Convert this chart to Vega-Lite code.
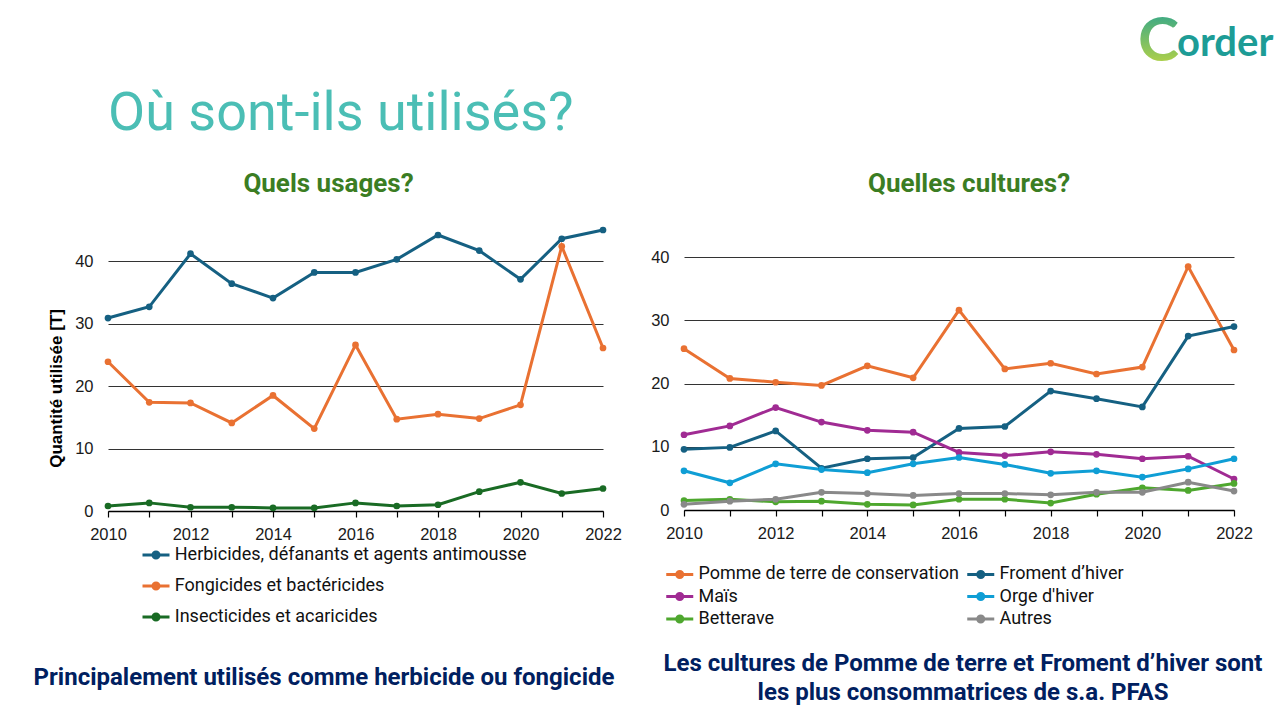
{
  "$schema": "https://vega.github.io/schema/vega-lite/v6.json",
  "background": "white",
  "padding": {"left": 33, "top": 5, "right": 0, "bottom": 0},
  "columns": 2,
  "bounds": "flush",
  "align": "each",
  "spacing": {"row": 155, "column": 81},
  "resolve": {"scale": {"color": "independent"}, "legend": {"color": "independent"}},
  "config": {
    "view": {"stroke": null},
    "font": "Roboto",
    "axis": {"labelFont": "Liberation Sans", "labelFontSize": 16.5, "labelColor": "#1a1a1a"},
    "axisX": {"domainColor": "#000000", "domainWidth": 1.5, "tickColor": "#000000", "tickWidth": 1.2, "tickSize": 6, "labelPadding": 9, "grid": false, "labelFlush": false, "labelOverlap": false},
    "axisY": {"domain": false, "ticks": false, "tickSize": 0, "labelPadding": 15, "grid": true, "gridColor": "#333333", "gridWidth": 1},
    "legend": {
      "symbolType": "M-2,0L2,0M0.45,0A0.45,0.45,0,1,1,-0.45,0A0.45,0.45,0,1,1,0.45,0",
      "symbolSize": 182.25,
      "symbolStrokeWidth": 3,
      "labelFont": "Roboto",
      "labelFontSize": 18,
      "labelColor": "#111111",
      "labelOffset": 9.75,
      "labelLimit": 0
    }
  },
  "datasets": {
    "usages": [
      {"series": "Herbicides, défanants et agents antimousse", "year": 2010, "value": 30.9},
      {"series": "Herbicides, défanants et agents antimousse", "year": 2011, "value": 32.7},
      {"series": "Herbicides, défanants et agents antimousse", "year": 2012, "value": 41.2},
      {"series": "Herbicides, défanants et agents antimousse", "year": 2013, "value": 36.4},
      {"series": "Herbicides, défanants et agents antimousse", "year": 2014, "value": 34.1},
      {"series": "Herbicides, défanants et agents antimousse", "year": 2015, "value": 38.2},
      {"series": "Herbicides, défanants et agents antimousse", "year": 2016, "value": 38.2},
      {"series": "Herbicides, défanants et agents antimousse", "year": 2017, "value": 40.3},
      {"series": "Herbicides, défanants et agents antimousse", "year": 2018, "value": 44.2},
      {"series": "Herbicides, défanants et agents antimousse", "year": 2019, "value": 41.7},
      {"series": "Herbicides, défanants et agents antimousse", "year": 2020, "value": 37.1},
      {"series": "Herbicides, défanants et agents antimousse", "year": 2021, "value": 43.6},
      {"series": "Herbicides, défanants et agents antimousse", "year": 2022, "value": 45.0},
      {"series": "Fongicides et bactéricides", "year": 2010, "value": 23.9},
      {"series": "Fongicides et bactéricides", "year": 2011, "value": 17.4},
      {"series": "Fongicides et bactéricides", "year": 2012, "value": 17.3},
      {"series": "Fongicides et bactéricides", "year": 2013, "value": 14.1},
      {"series": "Fongicides et bactéricides", "year": 2014, "value": 18.5},
      {"series": "Fongicides et bactéricides", "year": 2015, "value": 13.2},
      {"series": "Fongicides et bactéricides", "year": 2016, "value": 26.6},
      {"series": "Fongicides et bactéricides", "year": 2017, "value": 14.7},
      {"series": "Fongicides et bactéricides", "year": 2018, "value": 15.5},
      {"series": "Fongicides et bactéricides", "year": 2019, "value": 14.8},
      {"series": "Fongicides et bactéricides", "year": 2020, "value": 17.0},
      {"series": "Fongicides et bactéricides", "year": 2021, "value": 42.4},
      {"series": "Fongicides et bactéricides", "year": 2022, "value": 26.1},
      {"series": "Insecticides et acaricides", "year": 2010, "value": 0.8},
      {"series": "Insecticides et acaricides", "year": 2011, "value": 1.3},
      {"series": "Insecticides et acaricides", "year": 2012, "value": 0.6},
      {"series": "Insecticides et acaricides", "year": 2013, "value": 0.6},
      {"series": "Insecticides et acaricides", "year": 2014, "value": 0.5},
      {"series": "Insecticides et acaricides", "year": 2015, "value": 0.5},
      {"series": "Insecticides et acaricides", "year": 2016, "value": 1.3},
      {"series": "Insecticides et acaricides", "year": 2017, "value": 0.8},
      {"series": "Insecticides et acaricides", "year": 2018, "value": 1.0},
      {"series": "Insecticides et acaricides", "year": 2019, "value": 3.1},
      {"series": "Insecticides et acaricides", "year": 2020, "value": 4.6},
      {"series": "Insecticides et acaricides", "year": 2021, "value": 2.8},
      {"series": "Insecticides et acaricides", "year": 2022, "value": 3.6}
    ],
    "cultures": [
      {"series": "Pomme de terre de conservation", "year": 2010, "value": 25.5},
      {"series": "Pomme de terre de conservation", "year": 2011, "value": 20.8},
      {"series": "Pomme de terre de conservation", "year": 2012, "value": 20.2},
      {"series": "Pomme de terre de conservation", "year": 2013, "value": 19.7},
      {"series": "Pomme de terre de conservation", "year": 2014, "value": 22.8},
      {"series": "Pomme de terre de conservation", "year": 2015, "value": 20.9},
      {"series": "Pomme de terre de conservation", "year": 2016, "value": 31.6},
      {"series": "Pomme de terre de conservation", "year": 2017, "value": 22.3},
      {"series": "Pomme de terre de conservation", "year": 2018, "value": 23.2},
      {"series": "Pomme de terre de conservation", "year": 2019, "value": 21.5},
      {"series": "Pomme de terre de conservation", "year": 2020, "value": 22.6},
      {"series": "Pomme de terre de conservation", "year": 2021, "value": 38.5},
      {"series": "Pomme de terre de conservation", "year": 2022, "value": 25.3},
      {"series": "Froment d’hiver", "year": 2010, "value": 9.6},
      {"series": "Froment d’hiver", "year": 2011, "value": 9.9},
      {"series": "Froment d’hiver", "year": 2012, "value": 12.5},
      {"series": "Froment d’hiver", "year": 2013, "value": 6.6},
      {"series": "Froment d’hiver", "year": 2014, "value": 8.1},
      {"series": "Froment d’hiver", "year": 2015, "value": 8.3},
      {"series": "Froment d’hiver", "year": 2016, "value": 12.9},
      {"series": "Froment d’hiver", "year": 2017, "value": 13.2},
      {"series": "Froment d’hiver", "year": 2018, "value": 18.8},
      {"series": "Froment d’hiver", "year": 2019, "value": 17.6},
      {"series": "Froment d’hiver", "year": 2020, "value": 16.3},
      {"series": "Froment d’hiver", "year": 2021, "value": 27.5},
      {"series": "Froment d’hiver", "year": 2022, "value": 29.0},
      {"series": "Maïs", "year": 2010, "value": 11.9},
      {"series": "Maïs", "year": 2011, "value": 13.3},
      {"series": "Maïs", "year": 2012, "value": 16.2},
      {"series": "Maïs", "year": 2013, "value": 13.9},
      {"series": "Maïs", "year": 2014, "value": 12.6},
      {"series": "Maïs", "year": 2015, "value": 12.3},
      {"series": "Maïs", "year": 2016, "value": 9.1},
      {"series": "Maïs", "year": 2017, "value": 8.6},
      {"series": "Maïs", "year": 2018, "value": 9.2},
      {"series": "Maïs", "year": 2019, "value": 8.8},
      {"series": "Maïs", "year": 2020, "value": 8.1},
      {"series": "Maïs", "year": 2021, "value": 8.5},
      {"series": "Maïs", "year": 2022, "value": 4.9},
      {"series": "Orge d'hiver", "year": 2010, "value": 6.2},
      {"series": "Orge d'hiver", "year": 2011, "value": 4.3},
      {"series": "Orge d'hiver", "year": 2012, "value": 7.3},
      {"series": "Orge d'hiver", "year": 2013, "value": 6.4},
      {"series": "Orge d'hiver", "year": 2014, "value": 5.9},
      {"series": "Orge d'hiver", "year": 2015, "value": 7.3},
      {"series": "Orge d'hiver", "year": 2016, "value": 8.3},
      {"series": "Orge d'hiver", "year": 2017, "value": 7.2},
      {"series": "Orge d'hiver", "year": 2018, "value": 5.8},
      {"series": "Orge d'hiver", "year": 2019, "value": 6.2},
      {"series": "Orge d'hiver", "year": 2020, "value": 5.2},
      {"series": "Orge d'hiver", "year": 2021, "value": 6.5},
      {"series": "Orge d'hiver", "year": 2022, "value": 8.1},
      {"series": "Betterave", "year": 2010, "value": 1.5},
      {"series": "Betterave", "year": 2011, "value": 1.7},
      {"series": "Betterave", "year": 2012, "value": 1.3},
      {"series": "Betterave", "year": 2013, "value": 1.4},
      {"series": "Betterave", "year": 2014, "value": 0.9},
      {"series": "Betterave", "year": 2015, "value": 0.8},
      {"series": "Betterave", "year": 2016, "value": 1.7},
      {"series": "Betterave", "year": 2017, "value": 1.7},
      {"series": "Betterave", "year": 2018, "value": 1.1},
      {"series": "Betterave", "year": 2019, "value": 2.5},
      {"series": "Betterave", "year": 2020, "value": 3.5},
      {"series": "Betterave", "year": 2021, "value": 3.1},
      {"series": "Betterave", "year": 2022, "value": 4.2},
      {"series": "Autres", "year": 2010, "value": 0.9},
      {"series": "Autres", "year": 2011, "value": 1.4},
      {"series": "Autres", "year": 2012, "value": 1.7},
      {"series": "Autres", "year": 2013, "value": 2.8},
      {"series": "Autres", "year": 2014, "value": 2.6},
      {"series": "Autres", "year": 2015, "value": 2.3},
      {"series": "Autres", "year": 2016, "value": 2.6},
      {"series": "Autres", "year": 2017, "value": 2.6},
      {"series": "Autres", "year": 2018, "value": 2.4},
      {"series": "Autres", "year": 2019, "value": 2.8},
      {"series": "Autres", "year": 2020, "value": 2.8},
      {"series": "Autres", "year": 2021, "value": 4.4},
      {"series": "Autres", "year": 2022, "value": 3.0}
    ]
  },
  "concat": [
    {
      "width": 495,
      "height": 70,
      "data": {"values": []},
      "mark": "text",
      "encoding": {},
      "title": {"text": "Où sont-ils utilisés?", "orient": "bottom", "anchor": "start", "baseline": "alphabetic", "offset": 55, "fontSize": 54, "font": "Roboto", "fontWeight": 400, "color": "#4BBEB5"}
    },
    {
      "width": 550,
      "height": 70,
      "data": {"values": [{"part": "C", "kind": "initial"}, {"part": "order", "kind": "rest"}]},
      "layer": [
        {
          "transform": [{"filter": "datum.kind === 'initial'"}],
          "mark": {"type": "text", "font": "Lato", "fontWeight": "bold", "fontSize": 62, "align": "right", "baseline": "middle", "dx": 220, "dy": 2,
                   "fill": {"gradient": "linear", "x1": 0, "y1": 0, "x2": 0, "y2": 1, "stops": [{"offset": 0, "color": "#1A9E98"}, {"offset": 1, "color": "#C9D93B"}]}},
          "encoding": {"text": {"field": "part", "type": "nominal"}}
        },
        {
          "transform": [{"filter": "datum.kind === 'rest'"}],
          "mark": {"type": "text", "font": "Lato", "fontWeight": "bold", "fontSize": 40, "align": "left", "baseline": "middle", "dx": 218, "dy": 4, "color": "#1D9C96"},
          "encoding": {"text": {"field": "part", "type": "nominal"}}
        }
      ]
    },
    {
      "width": 495,
      "height": 281,
      "data": {"name": "usages"},
      "title": {"text": "Quels usages?", "anchor": "middle", "dx": -27, "offset": 6, "baseline": "alphabetic", "fontSize": 26, "font": "Roboto", "fontWeight": "bold", "color": "#3B7D23"},
      "mark": {"type": "line", "strokeWidth": 3, "point": {"filled": true, "size": 45}},
      "encoding": {
        "x": {"field": "year", "type": "quantitative", "scale": {"domain": [2010, 2022], "nice": false, "zero": false},
              "axis": {"title": null, "values": [2010, 2011, 2012, 2013, 2014, 2015, 2016, 2017, 2018, 2019, 2020, 2021, 2022], "format": "d", "labelExpr": "datum.value % 2 === 0 ? datum.label : ''"}},
        "y": {"field": "value", "type": "quantitative", "scale": {"domain": [0, 45], "nice": false},
              "axis": {"values": [0, 10, 20, 30, 40], "title": "Quantité utilisée [T]", "titleFont": "Liberation Sans", "titleFontSize": 17, "titleFontWeight": "bold", "titleColor": "#000000", "titleX": -43, "titleY": 158, "titleBaseline": "bottom"}},
        "color": {"field": "series", "type": "nominal",
                  "scale": {"domain": ["Herbicides, défanants et agents antimousse", "Fongicides et bactéricides", "Insecticides et acaricides"], "range": ["#156082", "#E97132", "#196B24"]},
                  "legend": {"title": null, "orient": "none", "legendX": 39, "legendY": 316, "direction": "vertical", "rowPadding": 11}}
      }
    },
    {
      "width": 550,
      "height": 280,
      "data": {"name": "cultures"},
      "title": {"text": "Quelles cultures?", "anchor": "middle", "dx": 10, "offset": 12, "baseline": "alphabetic", "fontSize": 26, "font": "Roboto", "fontWeight": "bold", "color": "#3B7D23"},
      "mark": {"type": "line", "strokeWidth": 3, "point": {"filled": true, "size": 45}},
      "encoding": {
        "x": {"field": "year", "type": "quantitative", "scale": {"domain": [2010, 2022], "nice": false, "zero": false},
              "axis": {"title": null, "values": [2010, 2011, 2012, 2013, 2014, 2015, 2016, 2017, 2018, 2019, 2020, 2021, 2022], "format": "d", "labelExpr": "datum.value % 2 === 0 ? datum.label : ''"}},
        "y": {"field": "value", "type": "quantitative", "scale": {"domain": [0, 44.27], "nice": false},
              "axis": {"values": [0, 10, 20, 30, 40], "title": null}},
        "color": {"field": "series", "type": "nominal",
                  "scale": {"domain": ["Pomme de terre de conservation", "Froment d’hiver", "Maïs", "Orge d'hiver", "Betterave", "Autres"], "range": ["#E97132", "#156082", "#A02B93", "#0F9ED5", "#4EA72E", "#898989"]},
                  "legend": {"title": null, "orient": "none", "legendX": -13.25, "legendY": 335, "direction": "horizontal", "columns": 2, "rowPadding": 2.5, "columnPadding": 1}}
      }
    },
    {
      "width": 495,
      "height": 24,
      "data": {"values": [{"t": "Principalement utilisés comme herbicide ou fongicide"}]},
      "mark": {"type": "text", "font": "Roboto", "fontWeight": "bold", "fontSize": 24, "color": "#002060", "dx": -31.5, "align": "center", "baseline": "middle"},
      "encoding": {"text": {"field": "t", "type": "nominal"}}
    },
    {
      "width": 550,
      "height": 24,
      "data": {"values": [{"t": "Les cultures de Pomme de terre et Froment d’hiver sont\nles plus consommatrices de s.a. PFAS"}]},
      "mark": {"type": "text", "font": "Roboto", "fontWeight": "bold", "fontSize": 24, "color": "#002060", "dx": 4, "dy": -14.5, "align": "center", "baseline": "middle", "lineBreak": "\n", "lineHeight": 29},
      "encoding": {"text": {"field": "t", "type": "nominal"}}
    }
  ]
}
